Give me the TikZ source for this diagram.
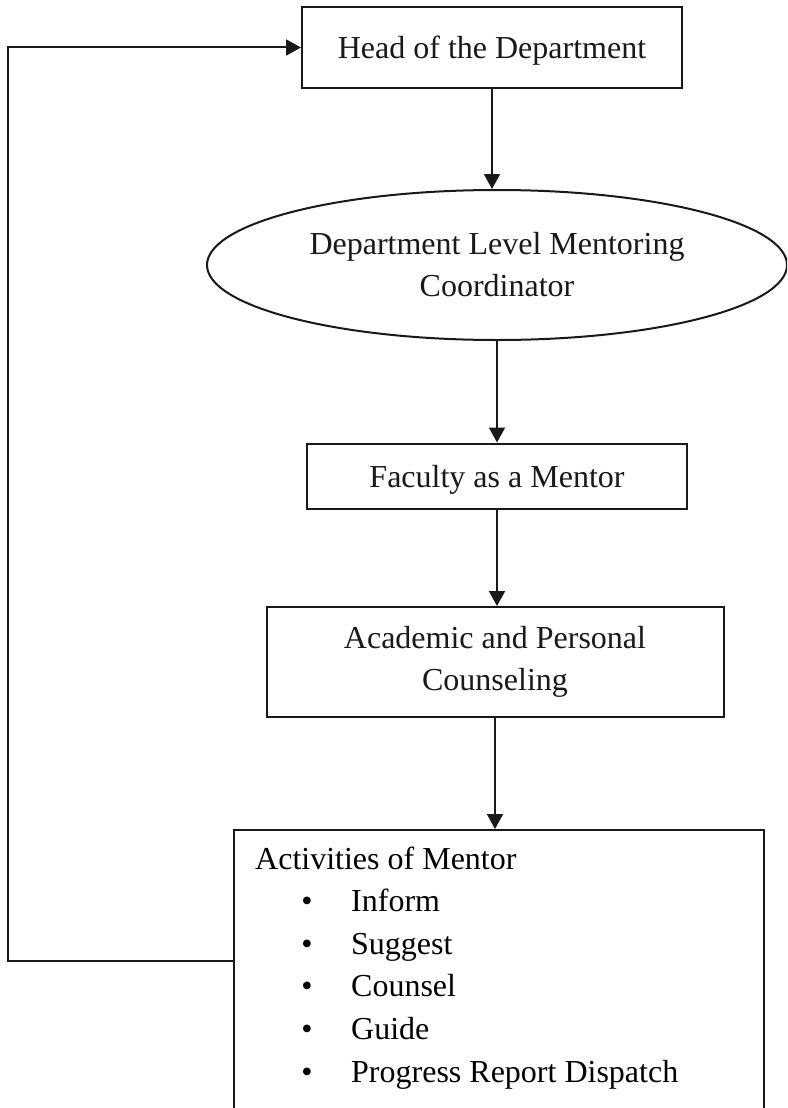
\documentclass[tikz,border=0pt]{standalone}
\usepackage{fontspec}
\setmainfont{Liberation Serif}
\usetikzlibrary{shapes.geometric,arrows.meta}
\tikzset{
  >={Triangle[length=15pt,width=16pt]},
}
\tikzstyle{pen}=[line width=2pt,black!90]
\tikzstyle{box}=[draw,pen,rectangle,align=center,inner sep=0pt]
\tikzstyle{oval}=[draw,pen,ellipse,align=center,inner sep=0pt]
\tikzstyle{every node}=[font=\fontsize{32}{42}\selectfont]
\tikzstyle{listtext}=[anchor=base west,inner sep=0pt]

\begin{document}
\begin{tikzpicture}[x=1pt,y=-1pt]
    \clip (0,0) rectangle (787,1108);
    \fill[white] (0,0) rectangle (787,1108);
    \node[box,minimum width=380pt,minimum height=81pt,text depth=0pt] (head) at (492,47.5) {Head of the Department};
    \node[oval,minimum width=580pt,minimum height=150pt] (coord) at (497,265) {Department Level Mentoring\\Coordinator};
    \node[box,minimum width=380pt,minimum height=65pt,text depth=0pt] (faculty) at (497,476) {Faculty as a Mentor};
    \node[box,minimum width=457pt,minimum height=110pt] (counsel) at (495,662) {Academic and Personal\\Counseling};
    \node[box,minimum width=530pt,minimum height=300pt,anchor=north] (activ) at (499,829) {};
    \node[listtext] (title) at (255,869) {Activities of Mentor};
    \foreach \txt [count=\i] in {Inform,Suggest,Counsel,Guide,Progress Report Dispatch}{
      \node[anchor=base,inner sep=0pt] (dot\i) at (307,{869+42.6*\i}) {\textbullet};
      \node[listtext] (item\i) at (351,{869+42.6*\i}) {\txt};
    }
    \draw[pen,->] (head.south) -- (head.south |- coord.north);
    \draw[pen,->] (coord.south) -- (coord.south |- faculty.north);
    \draw[pen,->] (faculty.south) -- (faculty.south |- counsel.north);
    \draw[pen,->] (counsel.south) -- (counsel.south |- activ.north);
    \coordinate (bend) at (8,961);
    \draw[pen,->] (activ.west |- bend) -- (bend) |- (head.west);
\end{tikzpicture}
\end{document}
